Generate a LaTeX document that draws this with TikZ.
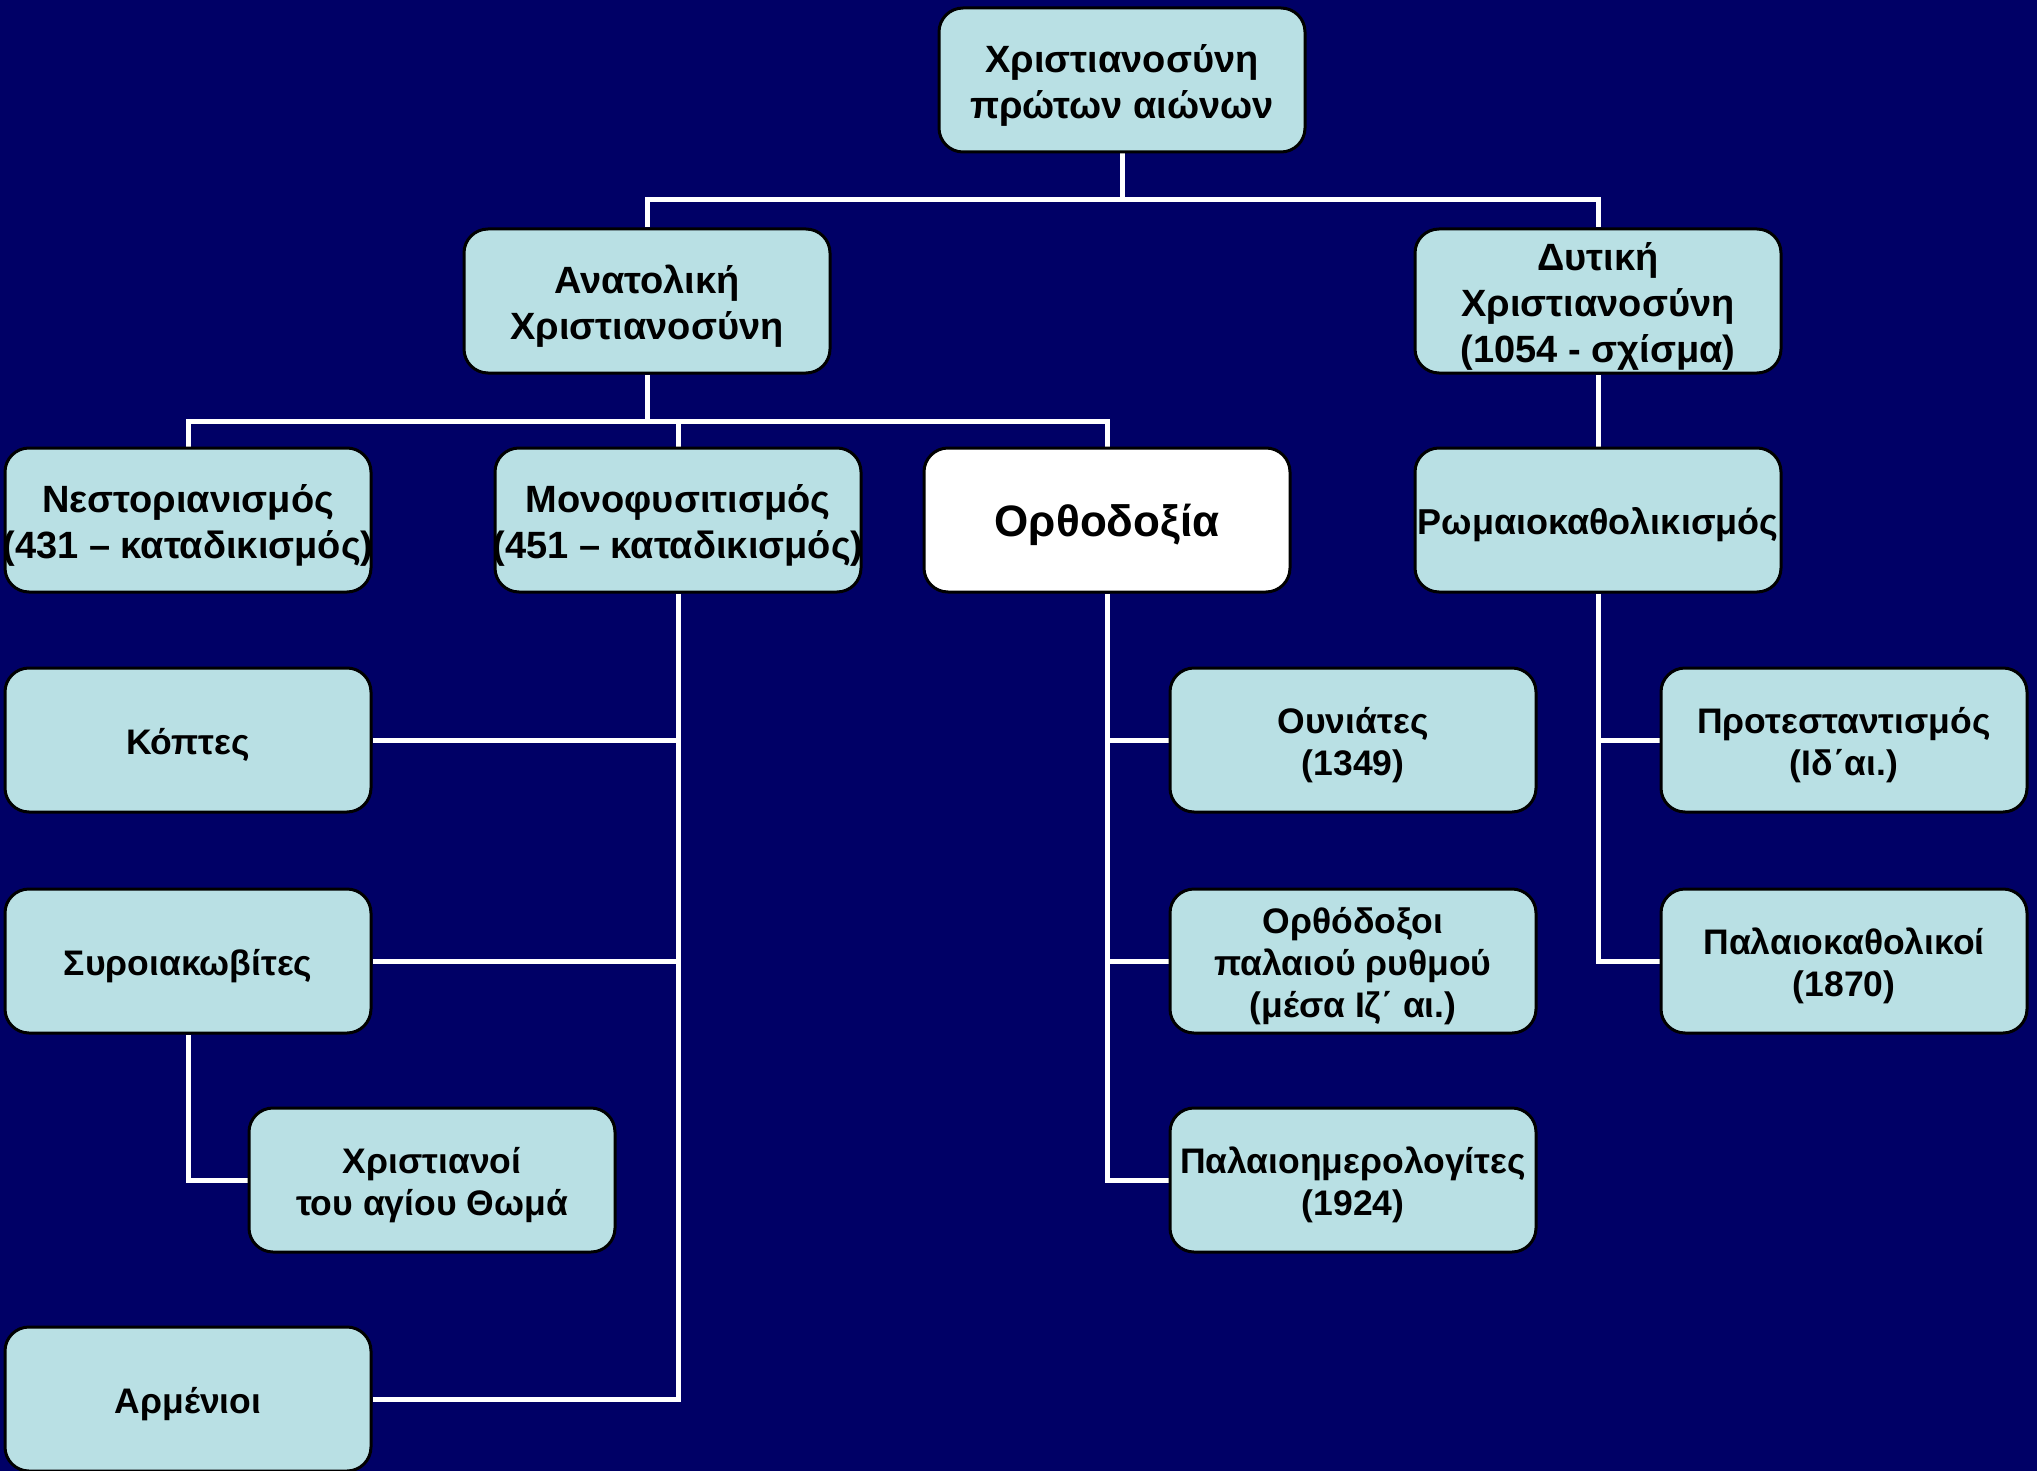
\documentclass[tikz,border=0pt]{standalone}
\usepackage{fontspec}
\setmainfont{Liberation Sans}
\definecolor{bg}{RGB}{0,0,102}
\definecolor{boxfill}{RGB}{185,224,228}
\pgfdeclarelayer{bgfill}
\pgfdeclarelayer{links}
\pgfsetlayers{bgfill,links,main}
\begin{document}
\begin{tikzpicture}[x=1pt,y=-1pt,
  box/.style={draw=black, line width=3pt, fill=boxfill, rounded corners=24pt,
    minimum width=366pt, minimum height=144pt, inner sep=0pt},
  whitebox/.style={box, fill=white},
  lbl/.style={font=\fontsize{38}{46}\selectfont\bfseries, align=center, inner sep=0pt, text=black, yshift=-5pt},
  lblr/.style={lbl, font=\fontsize{36}{46}\selectfont\bfseries},
  lbls/.style={font=\fontsize{35.5}{42}\selectfont\bfseries, align=center, inner sep=0pt, text=black, yshift=-5pt},
  lblb/.style={font=\fontsize{44}{52}\selectfont\bfseries, align=center, inner sep=0pt, text=black, yshift=-5pt},
  link/.style={draw=white, line width=5pt}]
\useasboundingbox (0,0) rectangle (2037,1471);
\begin{pgfonlayer}{bgfill}
\fill[bg] (0,0) rectangle (2037,1471);
\end{pgfonlayer}
\clip (0,0) rectangle (2037,1471);

% boxes
\node[box] (top) at (1122,80) {};
\node[box] (ana) at (647,301) {};
\node[box] (dyt) at (1598,301) {};
\node[box] (nest) at (188,520) {};
\node[box] (mono) at (678,520) {};
\node[whitebox] (orth) at (1107,520) {};
\node[box] (rom) at (1598,520) {};
\node[box] (kopt) at (188,740) {};
\node[box] (ouni) at (1353,740) {};
\node[box] (prot) at (1844,740) {};
\node[box] (syro) at (188,961) {};
\node[box] (orthpal) at (1353,961) {};
\node[box] (palkath) at (1844,961) {};
\node[box] (thom) at (432,1180) {};
\node[box] (palimer) at (1353,1180) {};
\node[box] (arm) at (188,1399) {};

% labels
\node[lbl] (top-l) at (top) {Χριστιανοσύνη\\πρώτων αιώνων};
\node[lbl] (ana-l) at (ana) {Ανατολική\\Χριστιανοσύνη};
\node[lbl] (dyt-l) at (dyt) {Δυτική\\Χριστιανοσύνη\\(1054 - σχίσμα)};
\node[lbl] (nest-l) at (nest) {Νεστοριανισμός\\(431 – καταδικισμός)};
\node[lbl] (mono-l) at (mono) {Μονοφυσιτισμός\\(451 – καταδικισμός)};
\node[lblb] (orth-l) at (orth) {Ορθοδοξία};
\node[lblr] (rom-l) at (rom) {Ρωμαιοκαθολικισμός};
\node[lbls] (kopt-l) at (kopt) {Κόπτες};
\node[lbls] (ouni-l) at (ouni) {Ουνιάτες\\(1349)};
\node[lbls] (prot-l) at (prot) {Προτεσταντισμός\\(Ιδ΄αι.)};
\node[lbls] (syro-l) at (syro) {Συροιακωβίτες};
\node[lbls] (orthpal-l) at (orthpal) {Ορθόδοξοι\\παλαιού ρυθμού\\(μέσα Ιζ΄ αι.)};
\node[lbls] (palkath-l) at (palkath) {Παλαιοκαθολικοί\\(1870)};
\node[lbls] (thom-l) at (thom) {Χριστιανοί\\του αγίου Θωμά};
\node[lbls] (palimer-l) at (palimer) {Παλαιοημερολογίτες\\(1924)};
\node[lbls] (arm-l) at (arm) {Αρμένιοι};

% connectors
\coordinate (bus1) at (1122,200);
\coordinate (bus2) at (647,421);
\begin{pgfonlayer}{links}
\draw[link] (top.south) -- (bus1);
\draw[link] (ana.north) |- (bus1) -| (dyt.north);
\draw[link] (ana.south) -- (bus2);
\draw[link] (nest.north) |- (bus2) -| (orth.north);
\draw[link] (mono.north) -- (mono.north |- bus2);
\draw[link] (dyt.south) -- (rom.north);
\draw[link] (mono.south) |- (arm.east);
\draw[link] (kopt.east) -- (kopt.east -| mono.south);
\draw[link] (syro.east) -- (syro.east -| mono.south);
\draw[link] (syro.south) |- (thom.west);
\draw[link] (orth.south) |- (palimer.west);
\draw[link] (ouni.west) -- (ouni.west -| orth.south);
\draw[link] (orthpal.west) -- (orthpal.west -| orth.south);
\draw[link] (rom.south) |- (palkath.west);
\draw[link] (prot.west) -- (prot.west -| rom.south);
\end{pgfonlayer}
\end{tikzpicture}
\end{document}
